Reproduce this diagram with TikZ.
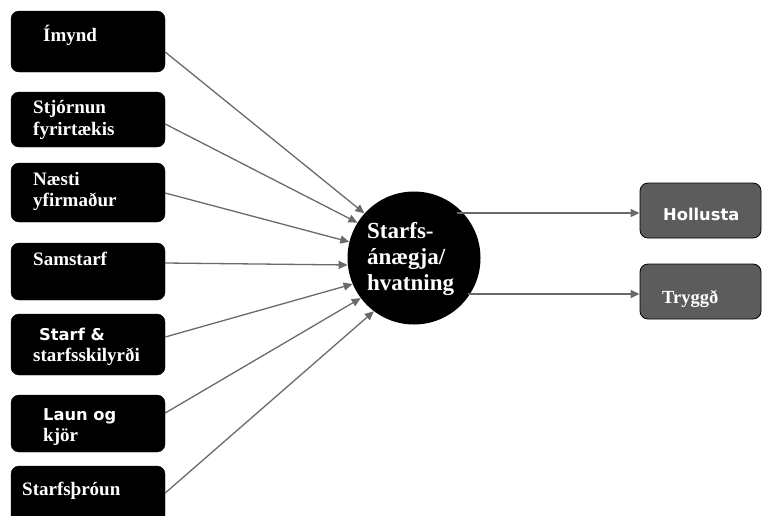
\documentclass[tikz,border=0pt]{standalone}
\usepackage{fontspec}
\setmainfont{Liberation Serif}
\newfontfamily\vsans{DejaVu Sans}
\usetikzlibrary{arrows.meta}
\definecolor{conn}{HTML}{6A6A6A}
\definecolor{outfill}{HTML}{5C5C5C}
\tikzset{
  inbox/.style={draw=black, fill=black, rounded corners=8pt, minimum width=154pt, inner sep=0pt},
  outbox/.style={draw=black, line width=0.8pt, fill=outfill, rounded corners=8pt, minimum width=121pt, inner sep=0pt},
  lbl/.style={anchor=base west, inner sep=0pt, text=white, font=\fontsize{19}{21}\selectfont\bfseries},
  slbl/.style={anchor=base west, inner sep=0pt, text=white, font=\vsans\fontsize{16.3}{18}\selectfont\bfseries},
  conn/.style={draw=conn, line width=1.3pt, -{Triangle[length=9pt,width=8pt]}},
}
\begin{document}
\begin{tikzpicture}[x=1pt,y=-1pt]
\useasboundingbox (0,0) rectangle (762,515);
\clip (0,0) rectangle (762,515);
% left boxes
\node[inbox, minimum height=61pt] (b1) at (88,41.5) {};
\node[inbox, minimum height=55pt] (b2) at (88,119.5) {};
\node[inbox, minimum height=59pt] (b3) at (88,192.5) {};
\node[inbox, minimum height=57pt] (b4) at (88,271.5) {};
\node[inbox, minimum height=61pt] (b5) at (88,344.5) {};
\node[inbox, minimum height=57pt] (b6) at (88,423.5) {};
\node[inbox, minimum height=57pt] (b7) at (88,494.5) {};
% left texts
\node[lbl] (t1) at (43,41) {Ímynd};
\node[lbl] (t2a) at (33,113) {Stjórnun};
\node[lbl] (t2b) at (33,135) {fyrirtækis};
\node[lbl] (t3a) at (33,185) {Næsti};
\node[lbl] (t3b) at (33,206) {yfirmaður};
\node[lbl] (t4) at (33,265) {Samstarf};
\node[slbl] (t5a) at (39,340) {Starf \&};
\node[lbl] (t5b) at (33,361) {starfsskilyrði};
\node[slbl] (t6a) at (43,420) {Laun og};
\node[lbl] (t6b) at (43,441) {kjör};
\node[lbl] (t7) at (22,495) {Starfsþróun};
% centre circle
\node[circle, fill=black, minimum size=133pt, inner sep=0pt] (c) at (414,258) {};
\node[anchor=base west, inner sep=0pt, text=white, font=\fontsize{23}{26}\selectfont\bfseries] (ct1) at (367,238) {Starfs-};
\node[anchor=base west, inner sep=0pt, text=white, font=\fontsize{23}{26}\selectfont\bfseries] (ct2) at (367,264) {ánægja/};
\node[anchor=base west, inner sep=0pt, text=white, font=\fontsize{23}{26}\selectfont\bfseries] (ct3) at (367,290) {hvatning};
% right boxes
\node[outbox, minimum height=55pt] (h) at (700.5,210.5) {};
\node[outbox, minimum height=55pt] (g) at (700.5,291.5) {};
\node[slbl] (ht) at (663,220) {Hollusta};
\node[lbl, font=\fontsize{18.5}{20}\selectfont\bfseries] (gt) at (662,303) {Tryggð};
% start points on the left boxes
\coordinate (s1) at (b1.east |- 0,52);
\coordinate (s2) at (b2.east |- 0,124);
\coordinate (s3) at (b3.east |- 0,193);
\coordinate (s4) at (b4.east |- 0,263);
\coordinate (s5) at (b5.east |- 0,337);
\coordinate (s6) at (b6.east |- 0,413);
\coordinate (s7) at (b7.east |- 0,493);
\draw[conn] (s1) -- (c.138);
\draw[conn] (s2) -- (c.148.5);
\draw[conn] (s3) -- (c.166);
\draw[conn] (s4) -- (c.186);
\draw[conn] (s5) -- (c.203.5);
\draw[conn] (s6) -- (c.217);
\draw[conn] (s7) -- (c.233);
% outputs
\coordinate (o1) at (457,213);
\coordinate (o2) at (468,294);
\draw[conn] (o1) -- (o1 -| h.west);
\draw[conn] (o2) -- (o2 -| g.west);
\end{tikzpicture}
\end{document}
